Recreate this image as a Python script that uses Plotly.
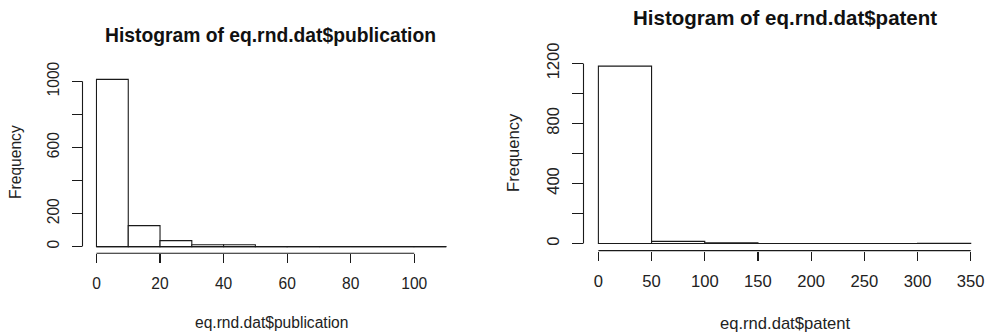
import plotly.graph_objects as go

W, H = 986, 334

# ---- data ----
pub_edges = [0, 10, 20, 30, 40, 50, 60, 70, 80, 90, 100, 110]
pub_counts = [1012, 127, 36, 11, 11, 1, 1, 0, 0, 0, 1]
pub_xticks = [0, 20, 40, 60, 80, 100]
pub_yticks = [0, 200, 400, 600, 800, 1000]
pub_ylabels = ["0", "200", "", "600", "", "1000"]

pat_edges = [0, 50, 100, 150, 200, 250, 300, 350]
pat_counts = [1182, 14, 5, 0, 0, 0, 1]
pat_xticks = [0, 50, 100, 150, 200, 250, 300, 350]
pat_yticks = [0, 200, 400, 600, 800, 1000, 1200]
pat_ylabels = ["0", "", "400", "", "800", "", "1200"]

FONT = "Liberation Sans, Arial, sans-serif"
LINE = "#1a1a1a"
LW = 1.1


def px_x(p):
    return p / W


def px_y(p):
    return 1 - p / H


def ext(lo, hi):
    d = (hi - lo) * 0.04
    return [lo - d, hi + d]


fig = go.Figure()

panels = [
    dict(edges=pub_edges, counts=pub_counts, xt=pub_xticks, yt=pub_yticks, yl=pub_ylabels,
         xd=[82.5, 460], yd=[72.7, 253.3], xa="x", ya="y", fs=15.6, tfs=19.3,
         ytl=10, ysd=6, xsd=7,
         title="Histogram of eq.rnd.dat$publication", tpos=(270, 35),
         xlab="eq.rnd.dat$publication", xlpos=(271, 322), ylpos=(16, 162)),
    dict(edges=pat_edges, counts=pat_counts, xt=pat_xticks, yt=pat_yticks, yl=pat_ylabels,
         xd=[583.5, 985.6], yd=[59.0, 250.6], xa="x2", ya="y2", fs=16.6, tfs=20.5,
         ytl=10.5, ysd=6, xsd=6,
         title="Histogram of eq.rnd.dat$patent", tpos=(785, 17),
         xlab="eq.rnd.dat$patent", xlpos=(785, 323), ylpos=(513, 153)),
]

layout_axes = {}
for i, p in enumerate(panels):
    e = p["edges"]
    centers = [(a + b) / 2 for a, b in zip(e[:-1], e[1:])]
    widths = [b - a for a, b in zip(e[:-1], e[1:])]
    fig.add_trace(go.Bar(x=centers, y=p["counts"], width=widths,
                         marker=dict(color="white", line=dict(color=LINE, width=LW)),
                         xaxis=p["xa"], yaxis=p["ya"], showlegend=False, hoverinfo="skip"))
    # baseline (bottoms of all bins)
    fig.add_trace(go.Scatter(x=[e[0], e[-1]], y=[0, 0], mode="lines",
                             line=dict(color=LINE, width=LW),
                             xaxis=p["xa"], yaxis=p["ya"], showlegend=False, hoverinfo="skip"))
    sfx = "" if i == 0 else "2"
    xr = ext(e[0], e[-1])
    yr = ext(0, max(p["counts"]))
    layout_axes["xaxis" + sfx] = dict(
        domain=[px_x(p["xd"][0]), px_x(p["xd"][1])], range=xr, anchor="y" + sfx,
        tickvals=p["xt"], ticktext=[str(v) for v in p["xt"]], ticks="outside", ticklen=9,
        ticklabelstandoff=p["xsd"],
        tickwidth=LW, tickcolor=LINE, showline=False, showgrid=False, zeroline=False,
        tickfont=dict(family=FONT, size=p["fs"], color="#222"), fixedrange=True)
    layout_axes["yaxis" + sfx] = dict(
        domain=[px_y(p["yd"][1]), px_y(p["yd"][0])], range=yr, anchor="x" + sfx,
        tickvals=p["yt"], ticktext=p["yl"], ticks="outside", ticklen=p["ytl"], tickangle=-90,
        ticklabelstandoff=p["ysd"],
        tickwidth=LW, tickcolor=LINE, showline=False, showgrid=False, zeroline=False,
        tickfont=dict(family=FONT, size=p["fs"], color="#222"), fixedrange=True)
    # R-style axis lines spanning first to last tick
    fig.add_shape(type="line", xref=p["xa"], yref=p["ya"] + " domain",
                  x0=min(p["xt"]), x1=max(p["xt"]), y0=0, y1=0,
                  line=dict(color=LINE, width=LW))
    fig.add_shape(type="line", xref=p["xa"] + " domain", yref=p["ya"],
                  x0=0, x1=0, y0=min(p["yt"]), y1=max(p["yt"]),
                  line=dict(color=LINE, width=LW))
    fig.add_annotation(text="<b>" + p["title"] + "</b>", xref="paper", yref="paper",
                       x=px_x(p["tpos"][0]), y=px_y(p["tpos"][1]), showarrow=False,
                       xanchor="center", yanchor="middle",
                       font=dict(family=FONT, size=p["tfs"], color="#111"))
    fig.add_annotation(text=p["xlab"], xref="paper", yref="paper",
                       x=px_x(p["xlpos"][0]), y=px_y(p["xlpos"][1]), showarrow=False,
                       xanchor="center", yanchor="middle",
                       font=dict(family=FONT, size=p["fs"], color="#222"))
    fig.add_annotation(text="Frequency", xref="paper", yref="paper", textangle=-90,
                       x=px_x(p["ylpos"][0]), y=px_y(p["ylpos"][1]), showarrow=False,
                       xanchor="center", yanchor="middle",
                       font=dict(family=FONT, size=p["fs"], color="#222"))

fig.update_layout(width=W, height=H, margin=dict(l=0, r=0, t=0, b=0, autoexpand=False),
                  paper_bgcolor="white", plot_bgcolor="white", bargap=0, **layout_axes)

fig.write_html("out.html", config={"displayModeBar": False, "staticPlot": True})

# remove the default page margin so the figure fills the window exactly
with open("out.html", encoding="utf-8") as f:
    html = f.read()
html = html.replace("<head>", "<head><style>html,body{margin:0;padding:0;overflow:hidden;}</style>", 1)
with open("out.html", "w", encoding="utf-8") as f:
    f.write(html)
